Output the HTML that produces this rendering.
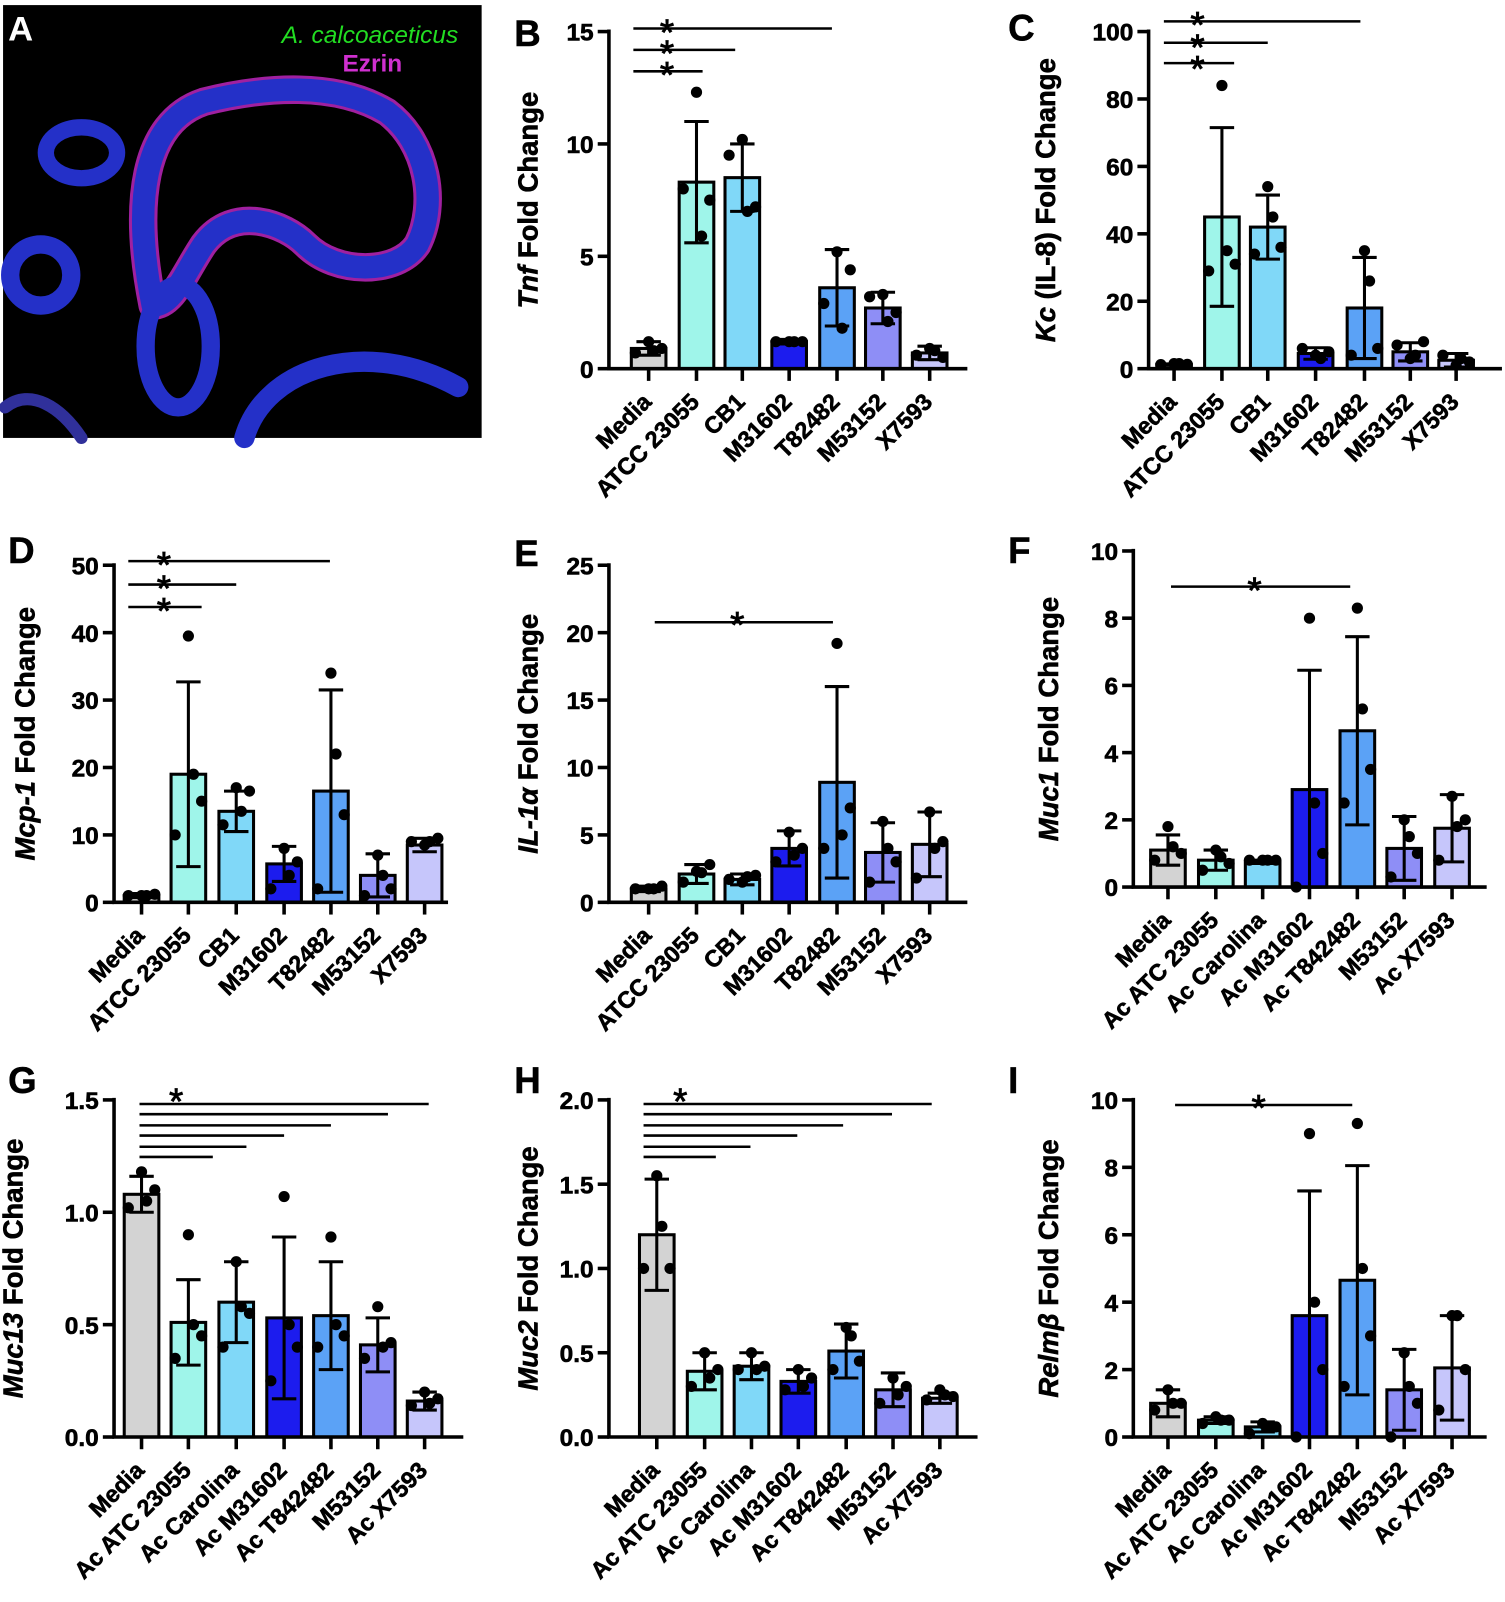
<!DOCTYPE html>
<html><head><meta charset="utf-8"><style>
html,body{margin:0;padding:0;background:#fff;}
svg{display:block;font-family:"Liberation Sans",Arial,sans-serif;font-weight:bold;}
</style></head><body>
<svg id="fig" width="1505" height="1602" viewBox="0 0 1478 1573" preserveAspectRatio="none" xmlns="http://www.w3.org/2000/svg">
<g>
<rect x="3" y="5" width="470" height="425" fill="#000"/>
<g fill="none" stroke-linecap="round">
<path d="M150,300 C130,200 140,120 200,100 C260,85 330,80 380,110 C420,140 430,200 410,240 C390,270 330,270 300,240 C280,220 230,200 200,240 C180,270 170,300 150,300" stroke="#a020a0" stroke-width="28"/>
<path d="M150,300 C130,200 140,120 200,100 C260,85 330,80 380,110 C420,140 430,200 410,240 C390,270 330,270 300,240 C280,220 230,200 200,240 C180,270 170,300 150,300" stroke="#2430c8" stroke-width="22"/>
<ellipse cx="40" cy="270" rx="30" ry="30" stroke="#2430c8" stroke-width="18"/>
<ellipse cx="175" cy="340" rx="32" ry="60" stroke="#2430c8" stroke-width="18"/>
<ellipse cx="80" cy="150" rx="35" ry="25" stroke="#2430c8" stroke-width="16"/>
<path d="M240,430 C260,360 360,330 450,380" stroke="#2430c8" stroke-width="20"/>
<path d="M5,400 C30,380 60,400 80,430" stroke="#30309a" stroke-width="12"/>
</g>
<text x="450" y="42" fill="#22dd22" font-size="24" font-style="italic" font-weight="normal" text-anchor="end">A. calcoaceticus</text>
<text x="395" y="70" fill="#d030d0" font-size="24" text-anchor="end">Ezrin</text>
<text x="8" y="40" fill="#fff" font-size="34">A</text>
</g>
</svg>
<script>
const colors = ["#d3d3d3","#9ff5ea","#80d8f8","#1c1cee","#5ba2f6","#8e8ef6","#c6c6fb"];
const labels1 = ["Media","ATCC 23055","CB1","M31602","T82482","M53152","X7593"];
const labels2 = ["Media","Ac ATC 23055","Ac Carolina","Ac M31602","Ac T842482","M53152","Ac X7593"];

const bMeans = [0.9,8.3,8.5,1.2,3.6,2.7,0.7];
const bSd = [0.3,2.7,1.5,0.1,1.7,0.7,0.3];
const bPts = [[1.2,0.7,0.9,0.8],[12.3,8.0,7.5,5.9],[10.2,9.5,7.2,7.0],[1.2,1.2,1.2,1.2],[5.2,2.9,4.4,1.8],[3.3,3.2,2.5,2.1],[0.9,0.6,0.5,0.8]];
const bTicks = [0,5,10,15];

const cMeans = [1.2,45,42,4.5,18,5,2.5];
const cSd = [0.2,26.5,9.5,1.7,15,2.7,2];
const cPts = [[1.5,1.2,1.3,1.5],[84,29,31,35],[54,34,36,45],[4,6,5,3],[35,4,6,26],[3,7,8,4],[1,4,2,3]];
const cTicks = [0,20,40,60,80,100];

const dMeans = [1,19,13.5,5.7,16.5,4,8.5];
const dSd = [0.3,13.7,3,2.6,15,3.2,1];
const dPts = [[1,1,1.2,1],[39.5,10,15,19],[17,11.5,16.5,13.5],[8,2,6,4],[34,2,13,22],[7,1,2,4],[8.5,9,9.5,9]];
const dTicks = [0,10,20,30,40,50];

const eMeans = [1,2.1,1.7,4,8.9,3.7,4.3];
const eSd = [0.2,0.7,0.4,1.3,7.1,2.2,2.4];
const ePts = [[1,1,1.2,1],[2.3,1.5,2.8,2.2],[1.5,1.7,2,1.9],[5.2,3,4,3.5],[19.2,4,7,5],[6,1.5,3,4],[6.7,1.8,4.5,4]];
const eTicks = [0,5,10,15,20,25];

const fMeans = [1.1,0.8,0.75,2.9,4.65,1.15,1.75];
const fSd = [0.45,0.3,0.05,3.55,2.8,0.95,1];
const fPts = [[1.8,0.8,1,1.2],[1.1,0.5,0.7,0.9],[0.8,0.8,0.8,0.8],[8,0,1,2.5],[8.3,2.5,3.5,5.3],[2,0.3,1,1.5],[2.7,0.8,2,1.8]];
const fTicks = [0,2,4,6,8,10];

const gMeans = [1.08,0.51,0.6,0.53,0.54,0.41,0.16];
const gSd = [0.08,0.19,0.18,0.36,0.24,0.12,0.04];
const gPts = [[1.18,1.02,1.1,1.05],[0.9,0.35,0.45,0.5],[0.78,0.4,0.55,0.58],[1.07,0.25,0.4,0.5],[0.89,0.4,0.45,0.5],[0.58,0.35,0.42,0.4],[0.2,0.14,0.17,0.15]];
const gTicks = ["0.0","0.5","1.0","1.5"];

const hMeans = [1.2,0.39,0.42,0.33,0.51,0.28,0.23];
const hSd = [0.33,0.11,0.08,0.07,0.16,0.1,0.03];
const hPts = [[1.55,1.0,1.0,1.25],[0.5,0.3,0.4,0.35],[0.5,0.4,0.42,0.4],[0.4,0.28,0.35,0.3],[0.65,0.4,0.45,0.6],[0.35,0.2,0.3,0.25],[0.28,0.22,0.24,0.25]];
const hTicks = ["0.0","0.5","1.0","1.5","2.0"];

const iMeans = [1,0.5,0.3,3.6,4.65,1.4,2.05];
const iSd = [0.4,0.1,0.15,3.7,3.4,1.2,1.55];
const iPts = [[1.4,0.8,1,1],[0.6,0.4,0.5,0.5],[0.4,0.1,0.3,0.3],[9,0,2,4],[9.3,1.5,3,5],[2.5,0,1,1.5],[3.6,0.8,2,3.6]];
const iTicks = [0,2,4,6,8,10];

const NS = "http://www.w3.org/2000/svg";
const svg = document.getElementById('fig');
function mk(tag, attrs, parent){const e=document.createElementNS(NS,tag);for(const k in attrs)e.setAttribute(k,attrs[k]);(parent||svg).appendChild(e);return e;}

const offs = [0,-13,13,5];

function panel(p){
  const g = mk('g',{});
  
  
  const tickVals = p.ticks.map(Number);
  const ymax = tickVals[tickVals.length-1];
  const y = v => p.y0 - (v/ymax)*(p.y0-p.y1);
  p.means.forEach((m,i)=>{
    const cx = p.xs[i];
    const r = mk('rect',{x:cx-17,y:y(m),width:34,height:p.y0-y(m),fill:colors[i],stroke:'#000','stroke-width':3},g);
    
    
  });
  p.means.forEach((m,i)=>{
    const cx=p.xs[i], hi=y(m+p.sd[i]), lo=y(Math.max(0,m-p.sd[i]));
    const e = mk('path',{d:`M${cx},${hi}V${lo}M${cx-12},${hi}H${cx+12}M${cx-12},${lo}H${cx+12}`,stroke:'#000','stroke-width':3,fill:'none'},g);
    
    
  });
  p.pts.forEach((arr,i)=>{arr.forEach((v,j)=>{
    const c = mk('circle',{cx:p.xs[i]+offs[j],cy:y(v),r:5.5,fill:'#000'},g);
    
    
  });});
  const ax = mk('path',{d:`M${p.ax},${p.y1-2}V${p.y0}H${p.xr}`,stroke:'#000','stroke-width':3.5,fill:'none'},g);
  
  
  p.ticks.forEach((t,k)=>{
    const yy = y(tickVals[k]);
    mk('line',{x1:p.ax-11,x2:p.ax,y1:yy,y2:yy,stroke:'#000','stroke-width':3.5},g);
    const tx = mk('text',{x:p.ax-15,y:yy+9,'font-size':24,'text-anchor':'end',stroke:'#000','stroke-width':0.6},g);
    tx.textContent = t;
    
    
  });
  p.xs.forEach((cx,i)=>{
    mk('line',{x1:cx,x2:cx,y1:p.y0,y2:p.y0+12,stroke:'#000','stroke-width':3.5},g);
    const lx=cx+4, ly=p.y0+34;
    const tx = mk('text',{x:lx,y:ly,'font-size':23,'text-anchor':'end',stroke:'#000','stroke-width':0.6,transform:`rotate(-45 ${lx} ${ly})`},g);
    tx.textContent = p.labels[i];
    
    
  });
  const tcx = p.ax-p.tOff, tcy=(p.y0+p.y1)/2;
  const tt = mk('text',{x:tcx,y:tcy,'font-size':27,'text-anchor':'middle',stroke:'#000','stroke-width':0.6,transform:`rotate(-90 ${tcx} ${tcy})`},g);
  tt.innerHTML = `<tspan font-style="italic">${p.gene}</tspan>${p.rest}`;
  
  
  p.sig.forEach(s=>{
    mk('line',{x1:p.sx,x2:s[0],y1:s[1],y2:s[1],stroke:'#000','stroke-width':2.5},g);
  });
  p.stars.forEach(s=>{
    const st = mk('text',{x:s[0],y:s[1]+24,'font-size':36,'text-anchor':'middle','font-weight':'normal',stroke:'#000','stroke-width':0.8},g);
    st.textContent='*';
    
    
  });
  const L = mk('text',{x:p.L[0],y:p.L[1],'font-size':36,stroke:'#000','stroke-width':0.5},g);
  L.textContent = p.id.toUpperCase();
  
  
}
const xsB=[637,684,729,775,822,867,913], xsC=[1153,1200,1245,1292,1340,1385,1430];
const xsD=[139,185,232,279,325,371,417], xsF=[1147,1194,1240,1286,1333,1379,1426];
const xsH=[645,692,738,784,831,877,923];
panel({id:'b',means:bMeans,sd:bSd,pts:bPts,ticks:bTicks,labels:labels1,xs:xsB,ax:598,xr:950,y0:362,y1:31,gene:'Tnf',rest:' Fold Change',tOff:70,sx:622,sig:[[690,70],[722,49],[817,28]],stars:[[655,62],[655,41],[655,20]],L:[505,45]});
panel({id:'c',means:cMeans,sd:cSd,pts:cPts,ticks:cTicks,labels:labels1,xs:xsC,ax:1128,xr:1475,y0:362,y1:31,gene:'Kc',rest:' (IL-8) Fold Change',tOff:92,sx:1143,sig:[[1212,62],[1245,42],[1336,21]],stars:[[1176,56],[1176,35],[1176,13]],L:[990,40]});
panel({id:'d',means:dMeans,sd:dSd,pts:dPts,ticks:dTicks,labels:labels1,xs:xsD,ax:112,xr:440,y0:886,y1:555,gene:'Mcp-1',rest:' Fold Change',tOff:78,sx:126,sig:[[198,596],[232,574],[324,551]],stars:[[161,588],[161,566],[161,543]],L:[8,553]});
panel({id:'e',means:eMeans,sd:eSd,pts:ePts,ticks:eTicks,labels:labels1,xs:xsB,ax:598,xr:950,y0:886,y1:555,gene:'IL-1α',rest:' Fold Change',tOff:70,sx:643,sig:[[818,611]],stars:[[724,602]],L:[505,556]});
panel({id:'f',means:fMeans,sd:fSd,pts:fPts,ticks:fTicks,labels:labels2,xs:xsF,ax:1113,xr:1460,y0:871,y1:541,gene:'Muc1',rest:' Fold Change',tOff:74,sx:1150,sig:[[1326,576]],stars:[[1232,568]],L:[990,553]});
panel({id:'g',means:gMeans,sd:gSd,pts:gPts,ticks:gTicks,labels:labels2,xs:xsD,ax:112,xr:455,y0:1411,y1:1080,gene:'Muc13',rest:' Fold Change',tOff:90,sx:137,sig:[[209,1136],[242,1126],[279,1115],[325,1105],[381,1094],[421,1084]],stars:[[173,1070]],L:[8,1073]});
panel({id:'h',means:hMeans,sd:hSd,pts:hPts,ticks:hTicks,labels:labels2,xs:xsH,ax:598,xr:960,y0:1411,y1:1080,gene:'Muc2',rest:' Fold Change',tOff:70,sx:632,sig:[[703,1136],[737,1126],[783,1115],[828,1105],[876,1094],[915,1084]],stars:[[668,1070]],L:[505,1073]});
panel({id:'i',means:iMeans,sd:iSd,pts:iPts,ticks:iTicks,labels:labels2,xs:xsF,ax:1113,xr:1460,y0:1411,y1:1080,gene:'Relmβ',rest:' Fold Change',tOff:74,sx:1154,sig:[[1328,1085]],stars:[[1236,1076]],L:[990,1073]});
</script>
</body></html>
